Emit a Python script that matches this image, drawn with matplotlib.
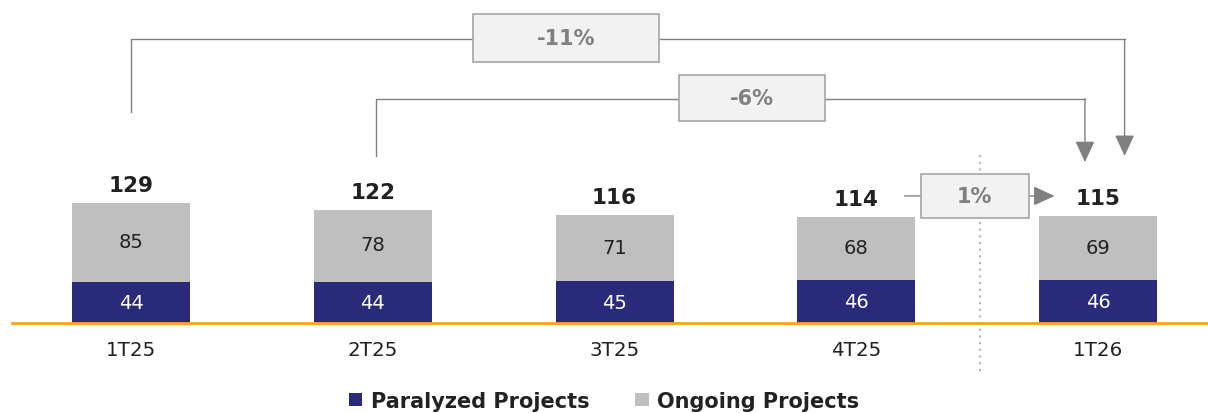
import numpy as np
import matplotlib.pyplot as plt
from matplotlib.patches import Rectangle

# -------------------------
# DATA
# -------------------------
quarters = ["1T25", "2T25", "3T25", "4T25", "1T26"]
paralyzed = [44, 44, 45, 46, 46]
ongoing = [85, 78, 71, 68, 69]
totals = [129, 122, 116, 114, 115]
changes = ["-11%", "-6%", "1%"]

# -------------------------
# STYLE
# -------------------------
NAVY = "#2a2a7b"
GRAY = "#bfbfbf"
ORANGE = "#f7a51c"
LINE = "#808080"
BOX_FILL = "#f2f2f2"
BOX_EDGE = "#a6a6a6"
TXT = "#222222"
HEAD = "-|>,head_length=1.3,head_width=0.6"

plt.rcParams["font.family"] = ["DejaVu Sans"]

fig = plt.figure(figsize=(12.08, 4.14), dpi=100)
ax = fig.add_axes([0, 0, 1, 1])
ax.set_xlim(-0.542, 4.455)
ax.set_ylim(-96.8, 348.4)
ax.axis("off")

x = np.arange(len(quarters))
w = 0.488

ax.bar(x, paralyzed, w, color=NAVY, label="Paralyzed Projects", zorder=2)
ax.bar(x, ongoing, w, bottom=paralyzed, color=GRAY, label="Ongoing Projects", zorder=2)

for i in range(len(quarters)):
    ax.text(x[i], paralyzed[i] / 2, str(paralyzed[i]), ha="center", va="center",
            color="white", fontsize=14)
    ax.text(x[i], paralyzed[i] + ongoing[i] / 2 + 1, str(ongoing[i]), ha="center",
            va="center", color=TXT, fontsize=14)
    ax.text(x[i], totals[i] + 19, str(totals[i]), ha="center", va="center",
            color=TXT, fontsize=15.5, fontweight="bold")
    ax.text(x[i], -29, quarters[i], ha="center", va="center", color=TXT, fontsize=14.3)

# baseline
ax.axhline(0, xmin=12 / 1208, xmax=1, color=ORANGE, lw=2, zorder=3)

# dotted separator between 4T25 and 1T26
ax.plot([3.51, 3.51], [-51.6, 181.7], color="#b0b0b0", lw=1.3, ls=(0, (1.2, 2.5)), zorder=1)


def box(cx, cy, bw, bh, label):
    ax.add_patch(Rectangle((cx - bw / 2, cy - bh / 2), bw, bh, facecolor=BOX_FILL,
                           edgecolor=BOX_EDGE, lw=1.2, zorder=4))
    ax.text(cx, cy, label, ha="center", va="center", color=LINE, fontsize=15,
            fontweight="bold", zorder=5)


def connector(x0, y0, ytop, x1, y1):
    ax.plot([x0, x0, x1], [y0, ytop, ytop], color=LINE, lw=1, zorder=1)
    ax.annotate("", xy=(x1, y1), xytext=(x1, ytop),
                arrowprops=dict(arrowstyle=HEAD, color=LINE, lw=1,
                                shrinkA=0, shrinkB=0), zorder=1)


# -11% : 1T25 -> 1T26
connector(x[0], totals[0] + 98, 305, x[4] + 0.11, 179.6)
box(1.80, 306, 0.769, 51.6, changes[0])

# -6% : 2T25 -> 1T26
connector(x[1] + 0.013, 179.6, 241, x[4] - 0.054, 173)
box(2.57, 242, 0.604, 49.5, changes[1])

# 1% : 4T25 -> 1T26
ax.annotate("", xy=(3.82, 136.6), xytext=(3.20, 136.6),
            arrowprops=dict(arrowstyle=HEAD, color=LINE, lw=1,
                            shrinkA=0, shrinkB=0), zorder=1)
box(3.49, 136.6, 0.447, 47.3, changes[2])

fig.legend(loc="lower center", ncol=2, frameon=False, bbox_to_anchor=(0.5, -0.04),
           prop=dict(size=15, weight="bold"), handlelength=0.65, handleheight=0.65,
           handletextpad=0.4, columnspacing=2.2, labelcolor=TXT)

fig.savefig("out.png", dpi=100)
